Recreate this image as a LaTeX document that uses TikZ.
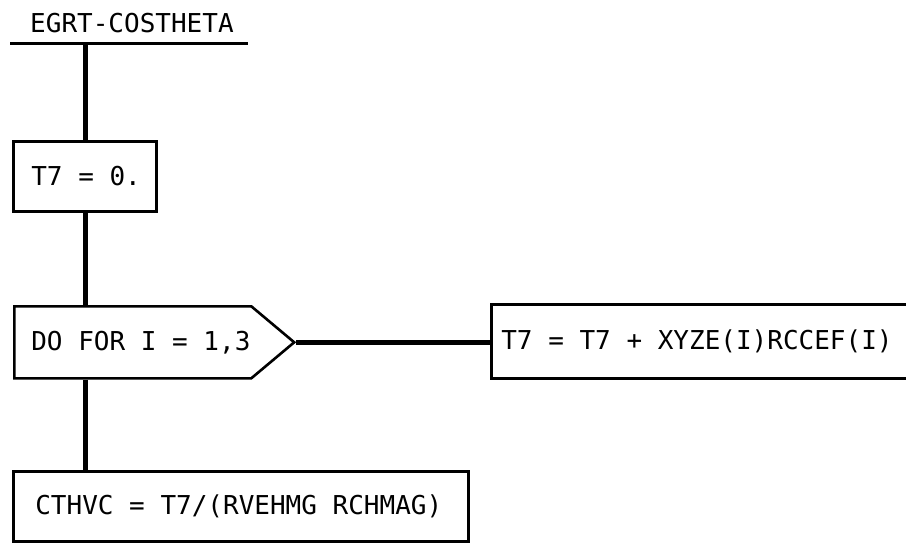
\documentclass[tikz,border=0pt]{standalone}
\usepackage{fontspec}
\setmonofont{DejaVu Sans Mono}
\usetikzlibrary{shapes.symbols}
\newcommand\monofnt{\ttfamily\fontsize{26}{30}\selectfont}
\newcommand\ws{\hspace*{0.602em}}
\tikzset{
  lbl/.style={font=\monofnt},
  box/.style={lbl, draw, line width=2.6pt, rectangle, anchor=north west, align=left, inner ysep=0pt},
  conn/.style={line width=5pt},
  hconn/.style={line width=4.5pt},
}
\begin{document}
\begin{tikzpicture}[x=1pt,y=-1pt]
\useasboundingbox (0,0) rectangle (906,542);
\clip (0,0) rectangle (906,542);
\node[lbl, anchor=west, inner sep=0pt] (title) at (30,23) {EGRT-COSTHETA};
\coordinate (ul) at (10,43);
\coordinate (ur) at (248,43);
\coordinate (top) at (85,43);
\draw[line width=3pt] (ul) -- (ur);
\node[box, minimum width=143pt, minimum height=70pt, text width=107pt, inner xsep=18pt] (t7) at (12,140) {T7\ws=\ws0.};
\node[box, signal, signal to=east, signal pointer angle=80, minimum height=72pt, inner xsep=2pt, text width=233pt] (do) at (13,305) {\hspace*{15pt}DO\ws FOR\ws I\ws=\ws1,3};
\node[box, minimum width=425pt, minimum height=74pt, inner xsep=10pt, text width=405pt] (acc) at (490,303) {T7\ws=\ws T7\ws+\ws XYZE(I)RCCEF(I)};
\node[box, minimum width=455pt, minimum height=70pt, inner xsep=22pt, text width=411pt] (cth) at (12,470) {CTHVC\ws=\ws T7/(RVEHMG\ws RCHMAG)};
\draw[conn] (top) -- (t7.north -| top);
\draw[conn] (t7.south -| top) -- (do.north -| top);
\draw[conn] (do.south -| top) -- (cth.north -| top);
\draw[hconn] (do.east) -- (acc.west |- do.east);
\end{tikzpicture}
\end{document}
